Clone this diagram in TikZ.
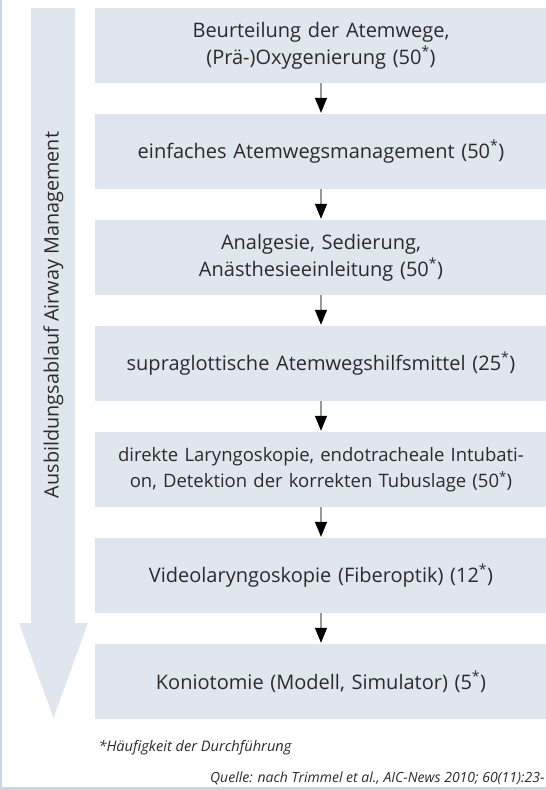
\documentclass[tikz,border=0pt]{standalone}
\usepackage{fontspec}
\setmainfont{Open Sans}
\usetikzlibrary{shapes,arrows.meta}
\definecolor{boxblue}{HTML}{DFE6ED}
\definecolor{rimblue}{HTML}{C9D6E3}
\definecolor{inkgray}{HTML}{2B2B2B}
\tikzstyle{stage} = [fill=boxblue, text=inkgray, text centered, inner sep=0pt, minimum width=452pt, minimum height=75pt, text width=446pt, font=\fontsize{20}{27}\selectfont]
\tikzstyle{flow} = [draw=gray!80, line width=1.2pt, -{Triangle[width=12pt,length=15pt,color=black]}, shorten >=1pt]

\begin{document}
\begin{tikzpicture}[x=1pt,y=1pt,node distance=106pt]
  \clip (0,0) rectangle (546,-790);
  \fill[rimblue] (0,0) rectangle (2,-790);
  \fill[rimblue] (0,-787) rectangle (546,-790);

  % big arrow on the left
  \fill[boxblue] (31,-8) -- (75,-8) -- (75,-623) -- (88,-623) -- (53.5,-718) -- (19,-623) -- (31,-623) -- cycle;
  \node[rotate=90,text=inkgray,font=\fontsize{19.8}{25}\selectfont] (course) at (53.5,-315) {Ausbildungsablauf Airway Management};

  \node[stage] (assess) at (321,-45.5) {Beurteilung der Atemwege,\\(Prä-)Oxygenierung (50\textsuperscript{*})};
  \node[stage,below of=assess] (basic) {einfaches Atemwegsmanagement (50\textsuperscript{*})};
  \node[stage,below of=basic] (sedation) {Analgesie, Sedierung,\\Anästhesieeinleitung (50\textsuperscript{*})};
  \node[stage,below of=sedation] (supra) {supraglottische Atemwegshilfsmittel (25\textsuperscript{*})};
  \node[stage,below of=supra,font=\fontsize{18.5}{26}\selectfont] (intub) {direkte Laryngoskopie, endotracheale Intubati-\\on, Detektion der korrekten Tubuslage (50\textsuperscript{*})};
  \node[stage,below of=intub] (video) {Videolaryngoskopie (Fiberoptik) (12\textsuperscript{*})};
  \node[stage,below of=video] (konio) {Koniotomie (Modell, Simulator) (5\textsuperscript{*})};

  \path[flow] (assess) -- (basic);
  \path[flow] (basic) -- (sedation);
  \path[flow] (sedation) -- (supra);
  \path[flow] (supra) -- (intub);
  \path[flow] (intub) -- (video);
  \path[flow] (video) -- (konio);

  \node[anchor=west,text=inkgray,font=\fontsize{14.6}{17}\selectfont\itshape] (note) at (95,-748) {*Häufigkeit der Durchführung};
  \node[anchor=east,text=inkgray,font=\fontsize{14}{16}\selectfont\itshape] (source) at (548,-778) {Quelle: nach Trimmel et al., AIC-News 2010; 60(11):23-};
\end{tikzpicture}
\end{document}
